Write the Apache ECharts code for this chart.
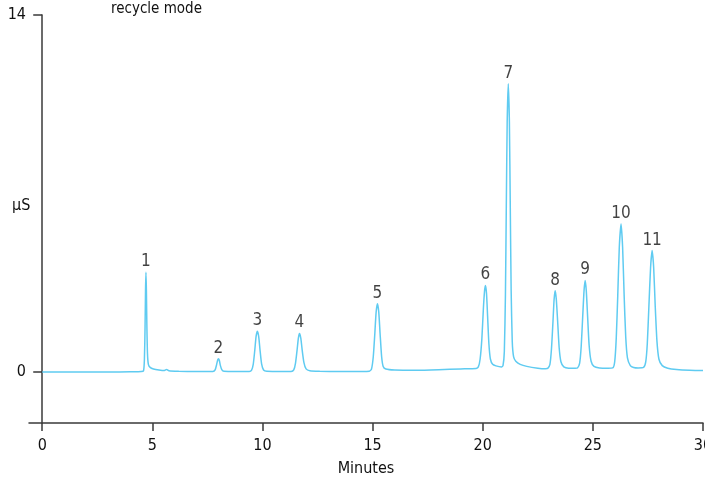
<!DOCTYPE html>
<html><head><meta charset="utf-8">
<script src="https://cdn.jsdelivr.net/npm/echarts@6/dist/echarts.min.js"></script>
<style>html,body{margin:0;padding:0;background:#fff}#c{width:705px;height:478px}</style>
</head><body><div id="c"></div>
<script>
// Signal trace: [minutes, µS]
const baseline = [[0,0],[1,0],[2,0],[3,0],[4,0.01],[4.5,0.02]];
const peak1 = [[4.60,0.05],[4.64,0.5],[4.67,1.8],[4.69,3.2],[4.71,3.91],[4.73,3.2],[4.75,1.9],[4.78,0.7],[4.82,0.3],[4.90,0.18],[5.05,0.12],[5.30,0.08],[5.55,0.06],[5.65,0.10],[5.75,0.05],[6.2,0.03],[7.0,0.02]];
const peak2 = [[7.75,0.02],[7.85,0.08],[7.92,0.30],[7.97,0.48],[8.00,0.52],[8.04,0.46],[8.09,0.25],[8.16,0.08],[8.25,0.03],[8.8,0.02],[9.3,0.02]];
const peak3 = [[9.40,0.02],[9.50,0.06],[9.58,0.30],[9.65,0.85],[9.71,1.40],[9.77,1.60],[9.83,1.38],[9.89,0.85],[9.96,0.32],[10.05,0.08],[10.2,0.03],[10.9,0.02]];
const peak4 = [[11.30,0.02],[11.42,0.08],[11.50,0.35],[11.57,0.85],[11.63,1.33],[11.68,1.51],[11.74,1.33],[11.80,0.88],[11.88,0.38],[11.98,0.12],[12.15,0.05],[12.6,0.03],[13.5,0.02],[14.5,0.02]];
const peak5 = [[14.85,0.03],[14.95,0.12],[15.03,0.6],[15.10,1.5],[15.16,2.35],[15.22,2.68],[15.28,2.35],[15.34,1.5],[15.41,0.6],[15.48,0.22],[15.6,0.12],[16.0,0.08],[17.0,0.07],[18.0,0.09],[19.0,0.12],[19.7,0.14]];
const peak6 = [[19.80,0.2],[19.88,0.5],[19.96,1.3],[20.03,2.5],[20.08,3.15],[20.12,3.39],[20.17,3.1],[20.22,2.2],[20.28,1.1],[20.35,0.5],[20.45,0.3],[20.6,0.24],[20.85,0.2]];
const peak7 = [[20.92,0.25],[20.98,0.8],[21.03,3.0],[21.07,6.5],[21.11,9.8],[21.16,11.30],[21.21,9.8],[21.25,6.5],[21.29,3.2],[21.34,1.2],[21.40,0.6],[21.5,0.42],[21.7,0.3],[22.0,0.22],[22.5,0.15],[22.85,0.13]];
const peak8 = [[22.95,0.14],[23.05,0.3],[23.12,0.9],[23.19,2.0],[23.24,2.85],[23.29,3.19],[23.34,2.85],[23.40,2.0],[23.47,0.95],[23.55,0.4],[23.68,0.2],[23.9,0.15],[24.2,0.15]];
const peak9 = [[24.30,0.16],[24.40,0.35],[24.47,1.0],[24.54,2.2],[24.60,3.2],[24.65,3.59],[24.70,3.2],[24.76,2.2],[24.83,1.05],[24.92,0.42],[25.05,0.22],[25.3,0.16],[25.7,0.15]];
const peak10 = [[25.90,0.16],[25.99,0.4],[26.06,1.3],[26.13,3.0],[26.20,4.9],[26.28,5.80],[26.35,4.9],[26.42,3.0],[26.49,1.4],[26.57,0.55],[26.70,0.25],[26.85,0.18],[27.05,0.16]];
const peak11 = [[27.30,0.18],[27.40,0.4],[27.47,1.1],[27.54,2.5],[27.62,4.1],[27.69,4.76],[27.76,4.1],[27.83,2.6],[27.91,1.2],[28.00,0.5],[28.15,0.25],[28.4,0.15],[28.8,0.1],[29.4,0.07],[30.0,0.06]];

const peakNames = ['1','2','3','4','5','6','7','8','9','10','11'];
const peakTimes = [4.71,8.00,9.77,11.68,15.22,20.12,21.16,23.29,24.65,26.28,27.69];
const peakHeights = [3.91,0.52,1.60,1.51,2.68,3.39,11.30,3.19,3.59,5.80,4.76];

const xTicks = [0,5,10,15,20,25,30];
const yTicks = [0,14];

const trace = [].concat(baseline,peak1,peak2,peak3,peak4,peak5,peak6,peak7,peak8,peak9,peak10,peak11);
const FONT = '"DejaVu Sans Condensed", "Liberation Sans Narrow", "Roboto", sans-serif';
const axisColor = '#3a3a3a';
const txt = '#111';

const chart = echarts.init(document.getElementById('c'));
chart.setOption({
  animation: false,
  title: [
    {text: 'recycle mode', left: 106, top: -3, textStyle: {fontFamily: FONT, fontSize: 15, fontWeight: 'normal', color: txt}},
    {text: 'μS', left: 7, top: 193, textStyle: {fontFamily: FONT, fontSize: 16, fontWeight: 'normal', color: txt}}
  ],
  grid: {left: 29, right: 2, top: 15, bottom: 55, containLabel: false, outerBoundsMode: 'none'},
  xAxis: {
    type: 'value', min: -0.6, max: 30,
    name: 'Minutes', nameLocation: 'middle', nameGap: 38,
    nameTextStyle: {fontFamily: FONT, fontSize: 16, color: txt},
    axisLine: {onZero: false, lineStyle: {color: axisColor, width: 1.5}},
    axisTick: {customValues: xTicks, length: 8, lineStyle: {color: axisColor, width: 1.5}},
    axisLabel: {customValues: xTicks, fontFamily: FONT, fontSize: 16, color: txt, margin: 15, showMaxLabel: true, hideOverlap: false},
    splitLine: {show: false}
  },
  yAxis: {
    type: 'value', min: -2, max: 14,
    axisLine: {onZero: true, lineStyle: {color: axisColor, width: 1.5}},
    axisTick: {customValues: yTicks, length: 9, lineStyle: {color: axisColor, width: 1.5}},
    axisLabel: {customValues: yTicks, fontFamily: FONT, fontSize: 16, color: txt, margin: 3},
    splitLine: {show: false}
  },
  series: [
    {type: 'line', data: trace, showSymbol: false, smooth: 0.2,
     lineStyle: {color: '#5fcbf1', width: 1.5}, z: 3},
    {type: 'scatter', symbolSize: 0, silent: true,
     data: peakTimes.map((t,i)=>({value:[t,peakHeights[i]], name: peakNames[i]})),
     label: {show: true, position: 'top', distance: 2, formatter: p => p.name,
             fontFamily: FONT, fontSize: 17, color: txt}}
  ]
});
</script></body></html>
